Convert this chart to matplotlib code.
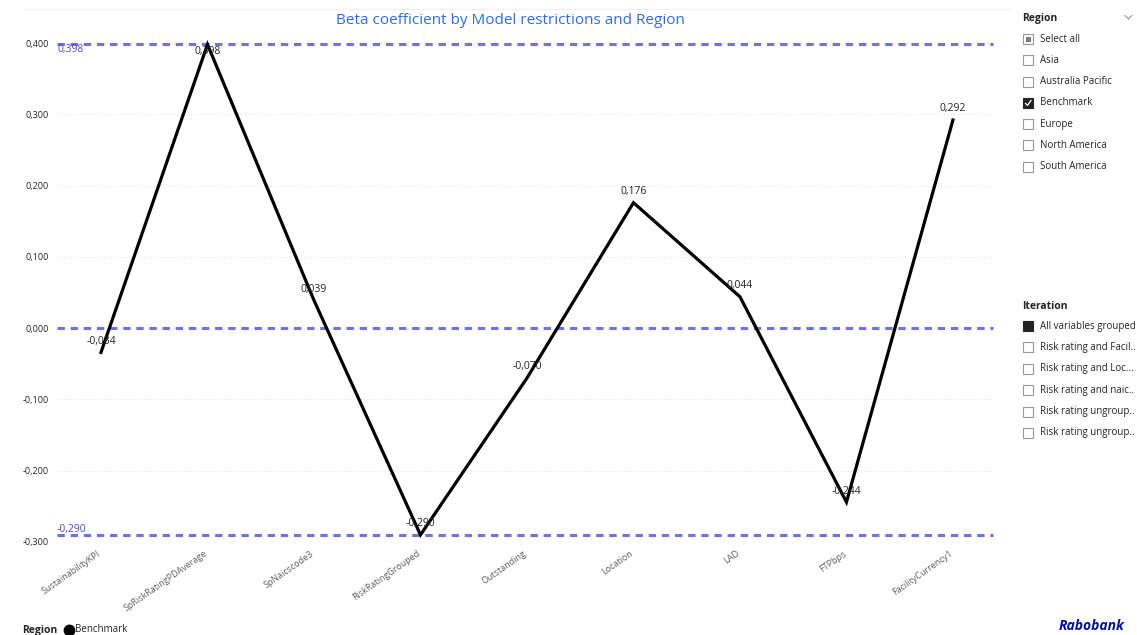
import matplotlib
matplotlib.use("Agg")
import matplotlib.pyplot as plt
import matplotlib.transforms as mtransforms
from matplotlib.patches import Rectangle
from matplotlib.lines import Line2D

plt.rcParams['font.family'] = ['Open Sans', 'DejaVu Sans']

# Beta coefficients per model variable (Benchmark region, all variables grouped)
variables = ["SustainabilityKPI", "SpRiskRatingPDAverage", "SpNaicscode3",
             "RiskRatingGrouped", "Outstanding", "Location", "LAD",
             "FTPbps", "FacilityCurrency1"]
beta = [-0.034, 0.398, 0.039, -0.290, -0.070, 0.176, 0.044, -0.244, 0.292]

y_ticks = [-0.3, -0.2, -0.1, 0.0, 0.1, 0.2, 0.3, 0.4]

region_items = ["Select all", "Asia", "Australia Pacific", "Benchmark",
                "Europe", "North America", "South America"]
region_state = ["partial", "off", "off", "checked", "off", "off", "off"]
iteration_items = ["All variables grouped", "Risk rating and Facil..",
                   "Risk rating and Loc...", "Risk rating and naic..",
                   "Risk rating ungroup..", "Risk rating ungroup.."]
iteration_state = ["filled", "off", "off", "off", "off", "off"]

W, H = 1137, 635
fig = plt.figure(figsize=(W / 100, H / 100), dpi=100)
fig.patch.set_facecolor("white")


def fx(px):
    return px / W


def fy(py):
    return 1 - py / H


def fmt(v):
    return f"{v:.3f}".replace(".", ",")


ylo, yhi = -0.3, 0.4
ax_top, ax_bot = 43, 542
ax = fig.add_axes([fx(57), fy(ax_bot), fx(993 - 57), (ax_bot - ax_top) / H])
ax.set_ylim(ylo, yhi)
ax.set_xlim(-0.413, 8.376)
for s in ax.spines.values():
    s.set_visible(False)

x = list(range(len(variables)))
ref_color = "#7074DA"

# faint dotted gridlines
for t in y_ticks:
    ax.axhline(t, color="#E6E6E6", lw=0.8, ls=(0, (1, 2)), zorder=0)

# min / max / zero reference lines
vmax, vmin = max(beta), min(beta)
for v in (vmax, 0.0, vmin):
    ax.axhline(v, color=ref_color, lw=2.2, ls=(0, (2.4, 1.9)), zorder=1,
               clip_on=False)
ax.text(0.0, vmax, fmt(vmax), transform=ax.get_yaxis_transform(),
        color="#4A4FC0", fontsize=7.5, va="top", ha="left")
ax.text(0.0, vmin, fmt(vmin), transform=ax.get_yaxis_transform(),
        color="#4A4FC0", fontsize=7.5, va="bottom", ha="left")

ax.plot(x, beta, color="black", lw=2.3, solid_joinstyle="miter", zorder=3,
        clip_on=False)

for xi, v in zip(x, beta):
    if v > yhi - 0.02:
        ax.annotate(fmt(v), (xi, v), xytext=(0, -1), textcoords="offset points",
                    ha="center", va="top", fontsize=7.5, color="#252423", zorder=4)
    else:
        ax.annotate(fmt(v), (xi, v), xytext=(0, 4), textcoords="offset points",
                    ha="center", va="bottom", fontsize=7.5, color="#252423", zorder=4)

ax.set_yticks(y_ticks)
ax.set_yticklabels([fmt(t) for t in y_ticks], fontsize=6.5, color="#252423")
ax.tick_params(axis="y", length=0, pad=6)
ax.set_xticks(x)
ax.set_xticklabels(variables, rotation=35, ha="right", va="top",
                   rotation_mode="anchor", fontsize=6.5, color="#605E5C")
ax.tick_params(axis="x", length=0, pad=5)
shift = mtransforms.ScaledTranslation(-4 / 100, 0, fig.dpi_scale_trans)
for lbl in ax.get_xticklabels():
    lbl.set_transform(lbl.get_transform() + shift)

# title and frame line
fig.text(fx(510), fy(20), "Beta coefficient by Model restrictions and Region",
         ha="center", va="center", fontsize=11, color="#2F6BEA")
fig.add_artist(Line2D([fx(25), fx(1010)], [fy(9), fy(9)], color="#F0F0F0", lw=0.8))


def checkbox(px, py, state):
    size = 10
    if state in ("checked", "filled"):
        fig.add_artist(Rectangle((fx(px), fy(py + size / 2)), fx(size), size / H,
                                 facecolor="#252423", edgecolor="#252423", lw=0.8))
        if state == "checked":
            fig.add_artist(Line2D([fx(px + 2.5), fx(px + 4.5), fx(px + 8)],
                                  [fy(py + 0.5), fy(py + 2.5), fy(py - 2.5)],
                                  color="white", lw=0.9))
    else:
        fig.add_artist(Rectangle((fx(px), fy(py + size / 2)), fx(size), size / H,
                                 facecolor="white", edgecolor="#9A9A9A", lw=0.8))
        if state == "partial":
            fig.add_artist(Rectangle((fx(px + 2.5), fy(py + 2.5)), fx(5), 5 / H,
                                     facecolor="#7A7A7A", edgecolor="none"))


# Region slicer
fig.text(fx(1022), fy(19), "Region", fontsize=7.5, fontweight="bold",
         color="#252423", va="center", ha="left")
fig.add_artist(Line2D([fx(1125), fx(1128.5), fx(1132)], [fy(15.5), fy(19), fy(15.5)],
                      color="#8A8A8A", lw=0.7))
for i, (item, st) in enumerate(zip(region_items, region_state)):
    py = 39 + i * 21.3
    checkbox(1023, py, st)
    fig.text(fx(1040), fy(py), item, fontsize=7, color="#252423", va="center", ha="left")

# Iteration slicer
fig.text(fx(1022), fy(306), "Iteration", fontsize=7.5, fontweight="bold",
         color="#252423", va="center", ha="left")
for i, (item, st) in enumerate(zip(iteration_items, iteration_state)):
    py = 326 + i * 21.4
    checkbox(1023, py, st)
    fig.text(fx(1040), fy(py), item, fontsize=7, color="#252423", va="center", ha="left")

# legend at the bottom
fig.text(fx(22), fy(630), "Region", fontsize=7.5, fontweight="bold",
         color="#252423", va="center", ha="left")
fig.add_artist(Line2D([fx(69)], [fy(630)], marker="o", markersize=7.5,
                      color="black", linestyle="none"))
fig.text(fx(75), fy(630), "Benchmark", fontsize=7, color="#252423",
         va="center", ha="left")

fig.text(fx(1125), fy(626), "Rabobank", fontsize=10, fontweight="bold",
         fontstyle="italic", color="#000F9F", va="center", ha="right")

fig.savefig("out.png", dpi=100, facecolor="white")
